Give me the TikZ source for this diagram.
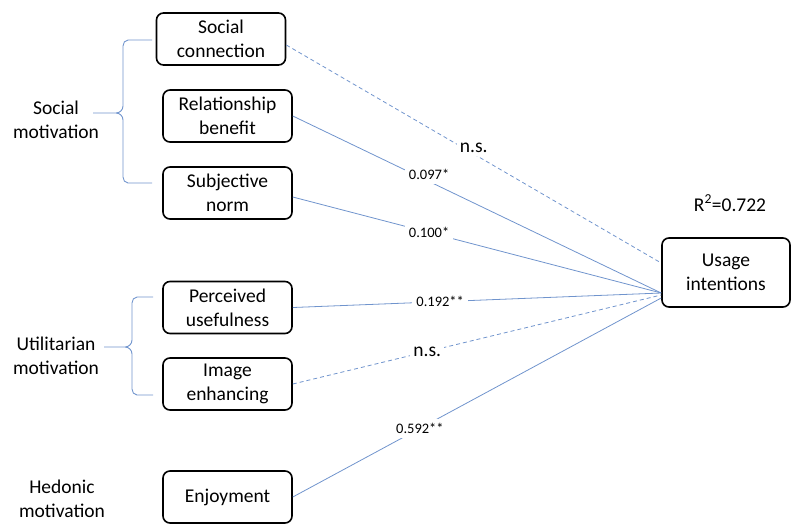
\documentclass[tikz,border=0pt]{standalone}
\usepackage{fontspec}
\setmainfont{Carlito}
\usepackage{tikz}
\usetikzlibrary{calc,positioning}
\definecolor{linkblue}{RGB}{112,148,205}
\tikzset{
    factor/.style={draw, line width=1.6pt, rounded corners=7pt, align=center,
        minimum width=129pt, minimum height=52pt, inner sep=2pt,
        font=\fontsize{19.5}{24}\selectfont},
    outcome/.style={factor, minimum width=128pt, minimum height=69pt},
    group/.style={align=center, font=\fontsize{19.5}{24}\selectfont},
    sig/.style={draw=linkblue, line width=0.8pt},
    nonsig/.style={sig, dash pattern=on 4pt off 3pt},
    coef/.style={fill=white, inner sep=4pt, font=\fontsize{14.5}{17}\selectfont},
    nslabel/.style={fill=white, inner sep=3pt, font=\fontsize{19.5}{24}\selectfont},
    brace/.style={draw=linkblue, line width=0.9pt}
}

\begin{document}
\begin{tikzpicture}[x=1pt, y=1pt]
    \useasboundingbox (0, 0) rectangle (792, -523);
    % constructs
    \node[factor] (sc) at (221, -39) {Social\\connection};
    \node[factor] (rb) at (227.5, -116) {Relationship\\benefit};
    \node[factor] (sn) at (227.5, -193) {Subjective\\norm};
    \node[factor] (pu) at (227.5, -307.5) {Perceived\\usefulness};
    \node[factor] (ie) at (227.5, -384) {Image\\enhancing};
    \node[factor] (enj) at (227.5, -497) {Enjoyment};
    \node[outcome] (ui) at (726, -272.5) {Usage\\intentions};
    \node[group] (r2) at (730, -203) {R\textsuperscript{2}=0.722};
    % groups
    \node[group] (smot) at (56, -120) {Social\\motivation};
    \node[group] (umot) at (56, -356) {Utilitarian\\motivation};
    \node[group] (hmot) at (62, -499) {Hedonic\\motivation};
    % paths into usage intentions
    \coordinate (top) at ($(ui.west)+(0, 9.5)$);
    \coordinate (hub) at ($(ui.west)+(0, -20.5)$);
    \draw[nonsig] ($(sc.east)+(0, -6)$) -- (top)
        node[nslabel, pos=0.5, yshift=6] {n.s.};
    \draw[sig] (rb.east) -- (hub)
        node[coef, pos=0.37, yshift=7] {0.097*};
    \draw[sig] ($(sn.east)+(0, -4)$) -- (hub)
        node[coef, pos=0.37] {0.100*};
    \draw[sig] (pu.east) -- (hub)
        node[coef, pos=0.40] {0.192**};
    \draw[nonsig] (ie.east) -- ($(hub)+(0, -2)$)
        node[nslabel, pos=0.365] {n.s.};
    \draw[sig] (enj.east) -- ($(hub)+(0, -5)$)
        node[coef, pos=0.345] {0.592**};
    % braces
    \draw[brace]
    (152, -40) -- (128, -40) to[out=180, in=90] (123, -46) -- (123, -106)
    to[out=-90, in=0] (116, -113) -- (93, -113) -- (116, -113)
    to[out=0, in=90] (123, -120) -- (123, -177)
    to[out=-90, in=180] (128, -183) -- (152, -183);
    \draw[brace]
    (153, -297) -- (137, -297) to[out=180, in=90] (132, -303) -- (132, -340)
    to[out=-90, in=0] (125, -347) -- (104, -347) -- (125, -347)
    to[out=0, in=90] (132, -354) -- (132, -389)
    to[out=-90, in=180] (137, -395) -- (153, -395);
\end{tikzpicture}
\end{document}
